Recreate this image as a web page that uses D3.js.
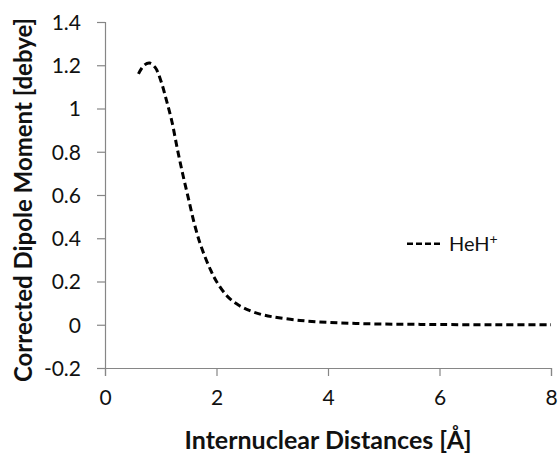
<!DOCTYPE html>
<html>
<head>
<meta charset="utf-8">
<script src="https://cdn.jsdelivr.net/npm/d3@7"></script>
<style>
  body { margin: 0; background: #fff; }
  text { font-family: Lato, "Open Sans", sans-serif; fill: #111; }
</style>
</head>
<body>
<svg id="chart" width="558" height="454"></svg>
<script>
// internuclear distance [Å] and corrected dipole moment [debye]
var distances = [0.6, 0.7, 0.8, 0.9, 1.0, 1.1, 1.2, 1.3, 1.4, 1.5, 1.6, 1.7, 1.8, 1.9, 2.0,
                 2.2, 2.4, 2.6, 2.8, 3.0, 3.5, 4.0, 4.5, 5.0, 5.5, 6.0, 7.0, 8.0];
var dipoles = [1.16, 1.20, 1.21, 1.19, 1.13, 1.04, 0.94, 0.81, 0.69, 0.58, 0.47, 0.38, 0.31, 0.25, 0.20,
               0.13, 0.09, 0.065, 0.048, 0.037, 0.02, 0.011, 0.006, 0.003, 0.002, 0.001, 0, 0];
var xTicks = [0, 2, 4, 6, 8];
var yTicks = [-0.2, 0, 0.2, 0.4, 0.6, 0.8, 1, 1.2, 1.4];
var seriesName = "HeH";

var svg = d3.select("#chart");
var plotLeft = 105, plotRight = 551, plotTop = 22, plotBottom = 368;

var x = d3.scaleLinear().domain([0, 8]).range([plotLeft, plotRight]);
var y = d3.scaleLinear().domain([-0.2, 1.4]).range([plotBottom, plotTop]);

var axisColor = "#868686";

// y axis
var yAxis = svg.append("g")
    .attr("transform", "translate(" + plotLeft + ",0)")
    .call(d3.axisLeft(y).tickValues(yTicks).tickSize(8).tickPadding(16)
      .tickFormat(function(d) { return String(+d.toFixed(1)); }));

// x axis
var xAxis = svg.append("g")
    .attr("transform", "translate(0," + plotBottom + ")")
    .call(d3.axisBottom(x).tickValues(xTicks).tickSize(8).tickPadding(14).tickFormat(d3.format("d")));

[yAxis, xAxis].forEach(function(g) {
  g.select(".domain").attr("stroke", axisColor).attr("stroke-width", 1.2);
  g.selectAll(".tick line").attr("stroke", axisColor).attr("stroke-width", 1.2);
  g.selectAll(".tick text").style("font-size", "21px").attr("fill", "#111");
});
yAxis.selectAll(".tick text").attr("dy", "0.35em");

// line
var points = distances.map(function(d, i) { return [d, dipoles[i]]; });
var line = d3.line()
    .x(function(d) { return x(d[0]); })
    .y(function(d) { return y(d[1]); })
    .curve(d3.curveCatmullRom.alpha(0.5));

svg.append("path")
    .datum(points)
    .attr("fill", "none")
    .attr("stroke", "#000")
    .attr("stroke-width", 3)
    .attr("stroke-dasharray", "7,4")
    .attr("d", line);

// legend
var legend = svg.append("g").attr("transform", "translate(407," + y(0.375) + ")");
legend.append("line")
    .attr("x1", 0).attr("x2", 34)
    .attr("stroke", "#000").attr("stroke-width", 2.5)
    .attr("stroke-dasharray", "6,3");
var lt = legend.append("text")
    .attr("x", 42).attr("dy", "0.35em")
    .style("font-size", "20px")
    .text(seriesName);
lt.append("tspan").attr("dy", "-0.45em").style("font-size", "14px").text("+");

// axis titles
svg.append("text")
    .attr("x", (plotLeft + plotRight) / 2).attr("y", 440).attr("dy", "0.35em")
    .attr("text-anchor", "middle")
    .style("font-size", "25px").style("font-weight", "bold")
    .text("Internuclear Distances [Å]");

svg.append("text")
    .attr("transform", "translate(24,200) rotate(-90)")
    .attr("dy", "0.35em")
    .attr("text-anchor", "middle")
    .style("font-size", "24px").style("font-weight", "bold")
    .text("Corrected Dipole Moment [debye]");
</script>
</body>
</html>
